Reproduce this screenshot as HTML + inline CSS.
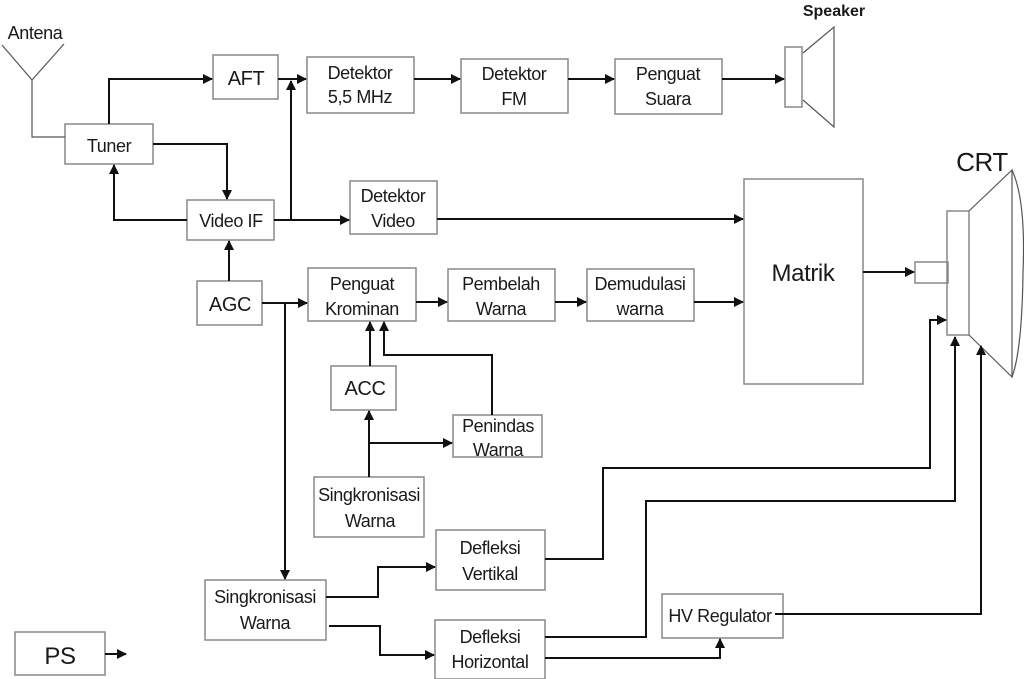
<!DOCTYPE html>
<html><head><meta charset="utf-8"><style>
html,body{margin:0;padding:0;background:#fff;}
svg{display:block;}
text{font-family:"Liberation Sans",sans-serif;fill:#1a1a1a;}
</style></head><body>
<svg width="1024" height="679" viewBox="0 0 1024 679" xmlns="http://www.w3.org/2000/svg">
<defs>
<marker id="a" markerWidth="10" markerHeight="10" refX="9" refY="5" orient="auto" markerUnits="userSpaceOnUse">
<path d="M0,0 L10,5 L0,10 z" fill="#111"/>
</marker>
</defs>
<g fill="none" stroke="#888" stroke-width="1.5">
<rect x="65" y="124" width="88" height="40"/>
<rect x="213" y="55" width="65" height="44"/>
<rect x="307" y="57" width="107" height="56"/>
<rect x="461" y="59" width="107" height="54"/>
<rect x="615" y="59" width="107" height="55"/>
<rect x="785" y="47" width="17" height="60"/>
<rect x="187" y="200" width="87" height="40"/>
<rect x="350" y="181" width="87" height="53"/>
<rect x="744" y="179" width="119" height="205"/>
<rect x="197" y="281" width="65" height="44"/>
<rect x="308" y="268" width="108" height="53"/>
<rect x="448" y="269" width="107" height="52"/>
<rect x="587" y="269" width="107" height="52"/>
<rect x="331" y="366" width="65" height="44"/>
<rect x="453" y="415" width="89" height="42"/>
<rect x="314" y="477" width="110" height="60"/>
<rect x="436" y="530" width="109" height="60"/>
<rect x="205" y="580" width="121" height="60"/>
<rect x="435" y="620" width="110" height="59"/>
<rect x="662" y="594" width="121" height="44"/>
<rect x="15" y="632" width="90" height="43"/>
<rect x="915" y="262" width="33" height="21"/>
<rect x="947" y="211" width="22" height="124"/>
</g>
<g fill="none" stroke="#555" stroke-width="1.2">
<path d="M2,45 L32,80 L64,44 M32,80 L32,137 L65,137"/>
<path d="M803,53 L834,27 L834,127 L803,100"/>
<path d="M969,211 L1012,170 L1012,377 L969,335 M1012,170 Q1026,200 1023,273 Q1022,350 1012,377"/>
</g>
<g fill="none" stroke="#111" stroke-width="2">
<path d="M109,124 L109,79 L212,79" marker-end="url(#a)"/>
<path d="M153,144 L227,144 L227,199" marker-end="url(#a)"/>
<path d="M187,220 L114,220 L114,165" marker-end="url(#a)"/>
<path d="M274,220 L349,220" marker-end="url(#a)"/>
<path d="M291,220 L291,81" marker-end="url(#a)"/>
<path d="M278,79 L306,79" marker-end="url(#a)"/>
<path d="M414,79 L460,79" marker-end="url(#a)"/>
<path d="M568,79 L614,79" marker-end="url(#a)"/>
<path d="M722,79 L784,79" marker-end="url(#a)"/>
<path d="M437,219 L743,219" marker-end="url(#a)"/>
<path d="M229,281 L229,241" marker-end="url(#a)"/>
<path d="M262,303 L307,303" marker-end="url(#a)"/>
<path d="M285,303 L285,579" marker-end="url(#a)"/>
<path d="M416,302 L447,302" marker-end="url(#a)"/>
<path d="M555,302 L586,302" marker-end="url(#a)"/>
<path d="M694,302 L743,302" marker-end="url(#a)"/>
<path d="M863,272 L914,272" marker-end="url(#a)"/>
<path d="M370,366 L370,322" marker-end="url(#a)"/>
<path d="M492,415 L492,355 L384,355 L384,322" marker-end="url(#a)"/>
<path d="M369,477 L369,411" marker-end="url(#a)"/>
<path d="M369,443 L452,443" marker-end="url(#a)"/>
<path d="M326,597 L378,597 L378,567 L435,567" marker-end="url(#a)"/>
<path d="M329,626 L380,626 L380,655 L434,655" marker-end="url(#a)"/>
<path d="M545,559 L603,559 L603,468 L930,468 L930,320 L946,320" marker-end="url(#a)"/>
<path d="M545,637 L646,637 L646,501 L955,501 L955,337" marker-end="url(#a)"/>
<path d="M545,658 L720,658 L720,639" marker-end="url(#a)"/>
<path d="M775,614 L981,614 L981,346" marker-end="url(#a)"/>
<path d="M105,654 L126,654" marker-end="url(#a)"/>
</g>
<g font-size="18" text-anchor="middle" letter-spacing="-0.4">
<text x="35" y="39" font-size="18">Antena</text>
<text x="834" y="16" font-size="16" font-weight="bold" letter-spacing="0">Speaker</text>
<text x="982" y="171" font-size="26">CRT</text>
<text x="109" y="152">Tuner</text>
<text x="246" y="85" font-size="20">AFT</text>
<text x="360" y="79">Detektor</text>
<text x="360" y="103">5,5 MHz</text>
<text x="514" y="80">Detektor</text>
<text x="514" y="105">FM</text>
<text x="668" y="80">Penguat</text>
<text x="668" y="105">Suara</text>
<text x="231" y="227">Video IF</text>
<text x="393" y="202">Detektor</text>
<text x="393" y="227">Video</text>
<text x="803" y="281" font-size="24">Matrik</text>
<text x="230" y="311" font-size="20">AGC</text>
<text x="362" y="290">Penguat</text>
<text x="362" y="315">Krominan</text>
<text x="501" y="290">Pembelah</text>
<text x="501" y="315">Warna</text>
<text x="640" y="290">Demudulasi</text>
<text x="640" y="315">warna</text>
<text x="365" y="395" font-size="20">ACC</text>
<text x="498" y="432">Penindas</text>
<text x="498" y="456">Warna</text>
<text x="369" y="501">Singkronisasi</text>
<text x="370" y="527">Warna</text>
<text x="490" y="554">Defleksi</text>
<text x="490" y="580">Vertikal</text>
<text x="265" y="603">Singkronisasi</text>
<text x="265" y="629">Warna</text>
<text x="490" y="643">Defleksi</text>
<text x="490" y="668">Horizontal</text>
<text x="720" y="622">HV Regulator</text>
<text x="60" y="664" font-size="24">PS</text>
</g>
</svg>
</body></html>
